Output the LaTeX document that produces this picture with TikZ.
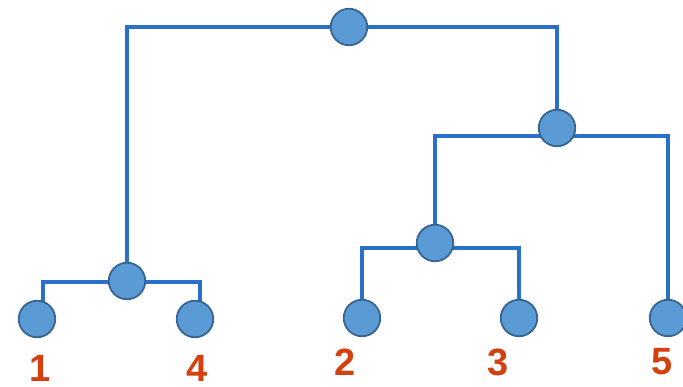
\documentclass[tikz,border=0pt]{standalone}
\usepackage{fontspec}
\setmainfont{Liberation Sans}
\definecolor{linkblue}{RGB}{40,112,200}
\definecolor{nodefill}{RGB}{91,155,213}
\definecolor{nodeedge}{RGB}{56,100,145}
\definecolor{labred}{RGB}{214,64,14}
\begin{document}
\begin{tikzpicture}[x=1pt,y=-1pt,
  link/.style={draw=linkblue,line width=3.2pt},
  dot/.style={circle,fill=nodefill,draw=nodeedge,line width=1.8pt,minimum size=36.5pt,inner sep=0pt},
  lab/.style={text=labred,font=\bfseries\fontsize{38}{38}\selectfont,inner sep=0pt}]
\useasboundingbox (0,0) rectangle (683,386);
% node positions
\coordinate (root) at (349,27);
\coordinate (rint) at (557,128);
\coordinate (mid) at (435,243);
\coordinate (lint) at (127,281);
\coordinate (p1) at (37,319);
\coordinate (p4) at (195,319);
\coordinate (p2) at (362,318);
\coordinate (p3) at (519,318);
\coordinate (p5) at (668,318);
% bend points
\coordinate (a1) at (43,282);
\coordinate (a4) at (200,282);
\coordinate (b1) at (435,136);
\coordinate (b5) at (668,136);
\coordinate (m2) at (362,248);
\coordinate (m3) at (519,248);
% connectors
\draw[link] (lint) |- (root) -| (rint);
\draw[link] (p1 -| a1) -- (a1) -- (a4) -- (p4 -| a4);
\draw[link] (mid) -- (b1) -- (b5) -- (p5);
\draw[link] (p2) -- (m2) -- (m3) -- (p3);
% circles
\node[dot] (nroot) at (root) {};
\node[dot] (nrint) at (rint) {};
\node[dot] (nmid) at (mid) {};
\node[dot] (nlint) at (lint) {};
\node[dot] (n1) at (p1) {};
\node[dot] (n4) at (p4) {};
\node[dot] (n2) at (p2) {};
\node[dot] (n3) at (p3) {};
\node[dot] (n5) at (p5) {};
% labels
\node[lab] (t1) at (40,368) {1};
\node[lab] (t4) at (197,368) {4};
\node[lab] (t2) at (345,362) {2};
\node[lab] (t3) at (498,362) {3};
\node[lab] (t5) at (662,362) {5};
\end{tikzpicture}
\end{document}
